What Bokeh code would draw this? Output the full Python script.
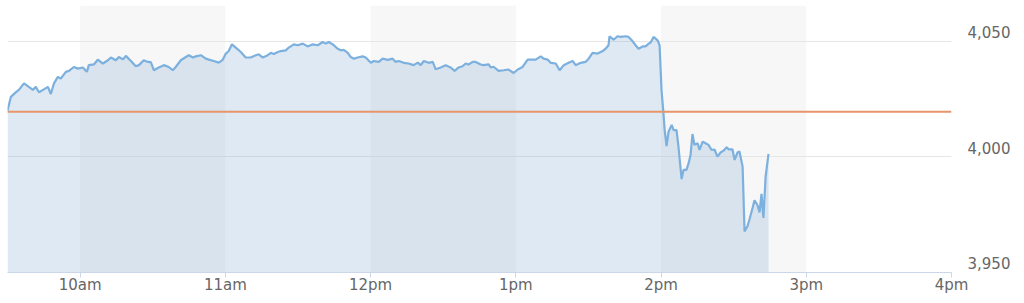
from bokeh.plotting import figure
from bokeh.models import Range1d, FixedTicker, BoxAnnotation, Span, ColumnDataSource
from bokeh.embed import file_html
from bokeh.resources import INLINE

# minutes after 9:30am
minutes = [0, 1.4, 3.5, 4.7, 6.8, 8.8, 10.5, 11.7, 13, 15, 16.7, 17.9, 19.2, 20.8, 22, 24.1, 25.4, 27.4,
           29.1, 31.1, 32.8, 33.6, 35.7, 37.3, 39.4, 41.5, 42.7, 44.8, 46, 47.7, 48.9, 51, 53, 54.3, 56.3,
           58, 59.2, 60.5, 62.5, 64.6, 66.6, 68.3, 69.5, 71.6, 73.7, 74.9, 76.6, 77.8, 79.9, 81.9, 83.2,
           85.2, 87.3, 88.9, 90.2, 91.4, 92.7, 94.3, 96.4, 98.4, 100.5, 102.6, 103.8, 105.5, 107.5, 108.8,
           110, 111.7, 112.9, 115, 116.2, 118.3, 119.9, 122, 124, 126.1, 128.2, 130.2, 131.5, 132.7, 134.4,
           136.4, 137.7, 138.9, 140.6, 141.8, 143.1, 144.7, 146.7, 148, 150.1, 151.3, 153.4, 155, 157.1,
           159.1, 160.4, 161.6, 163.7, 165.7, 167.8, 169.5, 170.7, 172, 174, 175.7, 176.9, 179, 181, 183.1,
           184.7, 186.4, 188, 189.3, 190.5, 192.2, 193.4, 195.5, 196.7, 198.8, 199.6, 200.8, 202.9, 205,
           207, 209.1, 210.8, 212.8, 214.9, 216.1, 218.2, 220.3, 221.5, 223.1, 224.4, 226.5, 228.1, 229.8,
           231.8, 233.5, 234.7, 236.8, 238.8, 240.1, 241.7, 243.8, 245.9, 247.1, 248.3, 248.7, 250.4, 252,
           253.3, 255.3, 256.6, 258.2, 259.5, 260.7, 262.4, 263.6, 264.9, 265.7, 266.9, 268.6, 269.4,
           270.2, 271.0, 271.5, 272.3, 273.1, 274.4, 275.2, 276.4, 277.2, 278.5, 279.3, 280.5, 281.4,
           282.2, 283, 283.8, 285.1, 285.9, 287.2, 288.4, 289.6, 290.9, 292.1, 293.3, 294.6, 295.8, 297.1,
           297.9, 299.5, 300.4, 301.6, 302.4, 303.7, 304.5, 305.7, 306.5, 307.8, 308.6, 309.8, 310.7,
           311.5, 311.9, 312.3, 313.2, 314.4]

prices = [4020.0, 4026.0, 4028.0, 4029.0, 4031.8, 4030.3, 4029.0, 4030.3, 4028.0, 4029.2, 4030.3, 4027.2,
          4031.8, 4034.6, 4033.9, 4036.8, 4037.2, 4038.9, 4038.2, 4038.7, 4036.8, 4039.7, 4040.0, 4042.1,
          4040.4, 4041.8, 4043.0, 4041.8, 4043.2, 4042.2, 4043.7, 4041.5, 4039.2, 4039.7, 4041.8, 4041.1,
          4041.0, 4037.5, 4038.7, 4039.7, 4038.9, 4037.5, 4038.9, 4041.8, 4043.2, 4044.0, 4043.0, 4043.5,
          4044.0, 4042.5, 4042.1, 4041.5, 4040.8, 4042.0, 4044.7, 4045.8, 4048.7, 4047.3, 4045.4, 4043.0,
          4043.0, 4044.0, 4044.4, 4043.0, 4044.0, 4045.0, 4044.5, 4045.4, 4045.8, 4046.1, 4047.3, 4048.7,
          4048.3, 4049.0, 4047.8, 4048.7, 4048.3, 4049.7, 4049.0, 4049.7, 4048.7, 4046.8, 4046.1, 4046.3,
          4045.0, 4043.2, 4042.5, 4043.0, 4043.5, 4043.0, 4040.7, 4041.5, 4041.1, 4042.5, 4042.0, 4042.5,
          4041.1, 4041.5, 4040.7, 4040.4, 4039.7, 4040.8, 4039.7, 4041.5, 4040.7, 4041.1, 4037.9, 4038.7,
          4039.7, 4038.7, 4037.2, 4038.7, 4039.2, 4040.4, 4040.0, 4041.1, 4041.1, 4040.0, 4039.7, 4040.0,
          4038.7, 4039.0, 4037.2, 4037.5, 4037.8, 4036.3, 4037.8, 4038.9, 4042.1, 4042.1, 4042.1,
          4043.5, 4042.5, 4042.1, 4040.7, 4040.4, 4037.5, 4039.7, 4040.7, 4041.5, 4039.7, 4040.7, 4041.1,
          4042.5, 4045.0, 4044.7, 4045.8, 4046.8, 4048.3, 4052.2, 4050.7, 4052.2, 4051.9, 4052.2, 4051.9,
          4050.1, 4048.3, 4046.8, 4047.8, 4047.8, 4049.0, 4049.5, 4051.9, 4050.4, 4048.3, 4028.9, 4018.8,
          4011.6, 4004.7, 4010.9, 4013.8, 4011.6, 4011.6, 4004.4, 3990.4, 3994.4, 3994.4, 3997.3, 4000.9,
          4009.9, 4005.2, 4005.9, 4003.0, 4006.6, 4005.9, 4005.2, 4003.0, 4003.2, 4000.1, 4001.9, 4002.7,
          4004.2, 4003.3, 4003.3, 3998.7, 4001.9, 4002.3, 3995.8, 3967.8, 3970.0, 3972.8, 3977.9, 3981.2,
          3979.3, 3976.0, 3984.0, 3978.6, 3973.6, 3991.5, 4001.3]

prev_close = 4019.5
open_minute = 570  # 9:30am in minutes of day
tick_minutes = [600, 660, 720, 780, 840, 900, 960]
tick_labels = ["10am", "11am", "12pm", "1pm", "2pm", "3pm", "4pm"]
band_hours = [(600, 660), (720, 780), (840, 900)]
y_ticks = [3950, 4000, 4050]
y_tick_labels = ["3,950", "4,000", "4,050"]
y_min, y_max = 3950, 4065.5
label_lift = 4.0  # labels sit slightly above their gridline

x = [open_minute + m for m in minutes]
src = ColumnDataSource(dict(x=x, y=prices, base=[y_min] * len(x)))

p = figure(width=1024, height=303, output_backend="svg", toolbar_location=None,
           x_range=Range1d(open_minute, 960), y_range=Range1d(y_min, y_max),
           y_axis_location="right", min_border_left=7, min_border_right=73,
           min_border_top=5, min_border_bottom=31)
p.outline_line_color = None
p.background_fill_color = "white"

for a, b in band_hours:
    p.add_layout(BoxAnnotation(left=a, right=b, fill_color="#f7f7f7", fill_alpha=1.0,
                               line_color=None, level="image"))

p.xgrid.visible = False
p.ygrid.ticker = FixedTicker(ticks=y_ticks)
p.ygrid.grid_line_color = "#e6e6e6"
p.ygrid.grid_line_width = 1

p.varea(x="x", y1="base", y2="y", source=src, fill_color="#94b6d7", fill_alpha=0.3)
p.line(x="x", y="y", source=src, line_color="#7cb0de", line_width=2.2)

p.add_layout(Span(location=prev_close, dimension="width", line_color="#e8956a", line_width=2))

xa = p.xaxis[0]
xa.ticker = FixedTicker(ticks=tick_minutes)
xa.major_label_overrides = {t: l for t, l in zip(tick_minutes, tick_labels)}
xa.axis_line_color = "#ccd6eb"
xa.major_tick_line_color = "#ccd6eb"
xa.major_tick_out = 5
xa.major_tick_in = 0
xa.minor_tick_line_color = None
xa.major_label_text_font = "DejaVu Sans"
xa.major_label_text_font_size = "15px"
xa.major_label_text_color = "#666666"
xa.major_label_standoff = -2

label_pos = [t + label_lift for t in y_ticks]
ya = p.yaxis[0]
ya.ticker = FixedTicker(ticks=label_pos)
ya.major_label_overrides = {t: l for t, l in zip(label_pos, y_tick_labels)}
ya.axis_line_color = None
ya.major_tick_line_color = None
ya.minor_tick_line_color = None
ya.major_tick_out = 0
ya.major_tick_in = 0
ya.major_label_standoff = 16
ya.major_label_text_font = "DejaVu Sans"
ya.major_label_text_font_size = "15px"
ya.major_label_text_color = "#666666"

open("out.html", "w").write(file_html(p, INLINE))
